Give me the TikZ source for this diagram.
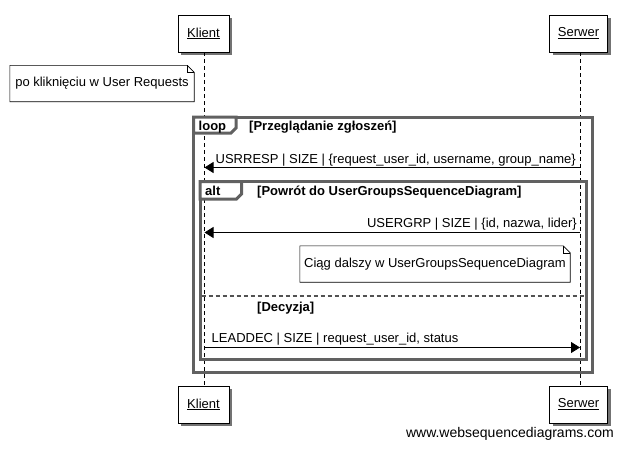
\documentclass[tikz,border=0pt]{standalone}
\usepackage{fontspec}
\setmainfont{Liberation Sans}
\usetikzlibrary{arrows.meta,shadows}

\tikzset{
  actor/.style={draw, fill=white, minimum height=37pt, inner sep=0pt,
    font=\fontsize{13}{15}\selectfont,
    drop shadow={shadow xshift=3pt, shadow yshift=-3pt, fill=black!55, opacity=1}},
  note/.style={minimum height=36pt, inner sep=0pt, font=\fontsize{13}{15}\selectfont},
  txt/.style={inner sep=0pt, font=\fontsize{13}{15}\selectfont},
  hdr/.style={txt, font=\fontsize{13}{15}\selectfont\bfseries, anchor=base west},
  msg/.style={-{Triangle[length=9pt,width=11pt]}, line width=.8pt},
  frame/.style={draw=black!62, line width=3pt},
  lifeline/.style={dashed, dash pattern=on 4pt off 3pt, line width=.8pt}
}

\begin{document}
\begin{tikzpicture}[x=1pt, y=-1pt]
    \useasboundingbox (0,0) rectangle (625,448);
    % lifelines
    \node[actor, minimum width=51pt] (kl) at (203.5,33.5) {\underline{Klient}};
    \node[actor, minimum width=58pt] (sv) at (578.5,33.5) {\underline{Serwer}};
    \node[actor, minimum width=51pt] (kl2) at (203.5,404.5) {\underline{Klient}};
    \node[actor, minimum width=58pt] (sv2) at (578.5,404.5) {\underline{Serwer}};
    \draw[lifeline] (kl.south) ++(1,0) coordinate (kltop) -- (kltop |- kl2.north);
    \draw[lifeline] (sv.south) ++(1.5,0) coordinate (svtop) -- (svtop |- sv2.north);

    % note 1
    \node[note, minimum width=184pt] (n1) at (102,83.5) {po kliknięciu w User Requests};
    \draw[line width=.6pt] (n1.north west) -- ([xshift=-7pt]n1.north east) -- ([yshift=-7pt]n1.north east)
        -- (n1.south east) -- (n1.south west) -- cycle;
    \draw[line width=.6pt] ([xshift=-7pt]n1.north east) -- ([xshift=-7pt,yshift=-7pt]n1.north east) -- ([yshift=-7pt]n1.north east);

    % loop
    \draw[frame] (193.5,117) rectangle (592,372.5);
    \draw[frame, fill=white] (193.5,117) -- (236,117) -- (236,128) -- (231,133) -- (193.5,133) -- cycle;
    \node[hdr] (lp) at (198.5,130) {loop};
    \node[hdr] (lpc) at (249,130) {[Przeglądanie zgłoszeń]};

    \draw[msg] (svtop |- 0,167.5) -- (kltop |- 0,167.5);
    \node[txt, anchor=base east] (m1) at (576,163.5) {USRRESP | SIZE | \{request\_user\_id, username, group\_name\}};

    % alt
    \draw[frame] (200,181.5) rectangle (586,359.5);
    \draw[frame, fill=white] (200,181.5) -- (241.5,181.5) -- (241.5,194) -- (236.5,199) -- (200,199) -- cycle;
    \node[hdr] (al) at (205,195) {alt};
    \node[hdr] (alc) at (257,195) {[Powrót do UserGroupsSequenceDiagram]};

    \draw[msg] (svtop |- 0,232.5) -- (kltop |- 0,232.5);
    \node[txt, anchor=base east] (m2) at (577,227) {USERGRP | SIZE | \{id, nazwa, lider\}};

    % note 2
    \node[note, minimum width=270pt] (n2) at (435,264) {Ciąg dalszy w UserGroupsSequenceDiagram};
    \draw[line width=.6pt] (n2.north west) -- ([xshift=-7pt]n2.north east) -- ([yshift=-7pt]n2.north east)
        -- (n2.south east) -- (n2.south west) -- cycle;
    \draw[line width=.6pt] ([xshift=-7pt]n2.north east) -- ([xshift=-7pt,yshift=-7pt]n2.north east) -- ([yshift=-7pt]n2.north east);

    \draw[draw=black!68, line width=2.5pt, dash pattern=on 4pt off 3pt] (201.5,296) -- (584.5,296);
    \node[hdr] (dc) at (257,311) {[Decyzja]};

    \draw[msg] (kltop |- 0,347.5) -- (svtop |- 0,347.5);
    \node[txt, anchor=base west] (m3) at (211.5,342) {LEADDEC | SIZE | request\_user\_id, status};

    \node[txt, anchor=base east, font=\fontsize{14}{16}\selectfont] (wm) at (614,437.5) {www.websequencediagrams.com};
\end{tikzpicture}
\end{document}
